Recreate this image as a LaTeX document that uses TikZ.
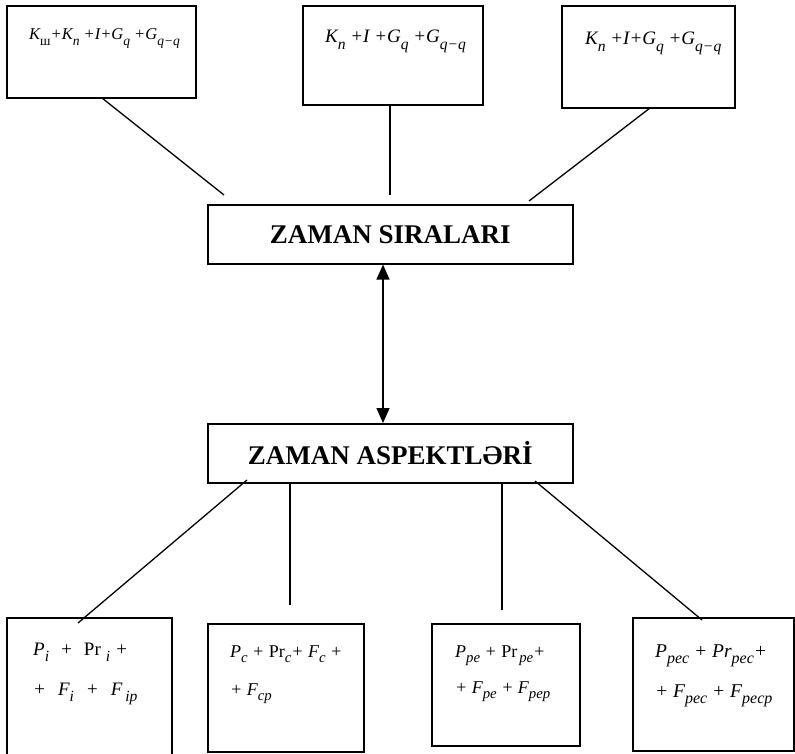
\documentclass[tikz,border=0pt]{standalone}
\usepackage{fontspec}
\setmainfont{Liberation Serif}
\usepackage{graphicx}
\usetikzlibrary{arrows.meta}
\newcommand\lo[1]{\raisebox{-0.32em}{\scalebox{0.82}{\itshape #1}}}
\newcommand\fs[1]{\fontsize{#1}{#1}\selectfont}
\begin{document}
\begin{tikzpicture}[x=1pt,y=-1pt,
  box/.style={draw,line width=1.6pt,anchor=north west,inner sep=0pt},
  conn/.style={line width=1.3pt},
  txt/.style={anchor=base west,inner sep=0pt},
  title/.style={font=\fs{27}\bfseries}]
\useasboundingbox (0,0) rectangle (795,754);
% top boxes
\node[box,minimum width=189pt,minimum height=92pt] (t1) at (6,5) {};
\node[box,minimum width=180pt,minimum height=99pt] (t2) at (302,5) {};
\node[box,minimum width=173pt,minimum height=102pt] (t3) at (561,5) {};
\node[txt,font=\fs{16.5}\itshape] (t1x) at (29,40) {K\lo{\upshape ш}+K\lo{n} +I+G\lo{q} +G\lo{q−q}};
\node[txt,font=\fs{19}\itshape] (t2x) at (325,43) {K\lo{n} +I +G\lo{q} +G\lo{q−q}};
\node[txt,font=\fs{19}\itshape] (t3x) at (585,45) {K\lo{n} +I+G\lo{q} +G\lo{q−q}};
% middle boxes
\node[box,minimum width=365pt,minimum height=59pt] (m1) at (207,204) {};
\node[title] (m1x) at (m1.center) {ZAMAN SIRALARI};
\node[box,minimum width=365pt,minimum height=59pt] (m2) at (207,423) {};
\node[title] (m2x) at (m2.center) {ZAMAN ASPEKTLƏRİ};
% bottom boxes
\node[box,minimum width=165pt,minimum height=150pt] (bA) at (6,617) {};
\node[box,minimum width=156pt,minimum height=128pt] (bB) at (207,623) {};
\node[box,minimum width=148pt,minimum height=122pt] (bC) at (431,623) {};
\node[box,minimum width=161pt,minimum height=133pt] (bD) at (632,617) {};
\node[txt,font=\fs{19}\itshape] (bA1) at (33,655) {P\lo{i}\hspace{11pt}+\hspace{11pt}{\upshape Pr}\hspace{5pt}\lo{i}\hspace{5pt}+};
\node[txt,font=\fs{19}\itshape] (bA2) at (33,695) {+\hspace{12pt}F\lo{i}\hspace{12pt}+\hspace{12pt}F\hspace{3pt}\lo{ip}};
\node[txt,font=\fs{18}\itshape] (bB1) at (230,657) {P\lo{c} + {\upshape Pr}\lo{c}+ F\lo{c} +};
\node[txt,font=\fs{18}\itshape] (bB2) at (230,695) {+ F\lo{cp}};
\node[txt,font=\fs{18}\itshape] (bC1) at (455,657) {P\lo{pe} + {\upshape Pr}\hspace{2pt}\lo{pe}+};
\node[txt,font=\fs{18}\itshape] (bC2) at (455,693) {+ F\lo{pe} + F\lo{pep}};
\node[txt,font=\fs{19.5}\itshape] (bD1) at (655,657) {P\lo{pec} + Pr\lo{pec}+};
\node[txt,font=\fs{19.5}\itshape] (bD2) at (655,697) {+ F\lo{pec} + F\lo{pecp}};
% connector end points
\coordinate (c1a) at (102,98);  \coordinate (c1b) at (224,195);
\coordinate (c2a) at (390,104); \coordinate (c2b) at (390,195);
\coordinate (c3a) at (650,108); \coordinate (c3b) at (529,201);
\coordinate (d1a) at (247,480); \coordinate (d1b) at (78,623);
\coordinate (d2a) at (290,482); \coordinate (d2b) at (290,605);
\coordinate (d3a) at (502,482); \coordinate (d3b) at (502,610);
\coordinate (d4a) at (535,481); \coordinate (d4b) at (702,620);
\coordinate (ax) at (383,0);
\draw[conn] (c1a) -- (c1b);
\draw[conn] (c2a) -- (c2b);
\draw[conn] (c3a) -- (c3b);
\draw[conn] (d1a) -- (d1b);
\draw[conn] (d2a) -- (d2b);
\draw[conn] (d3a) -- (d3b);
\draw[conn] (d4a) -- (d4b);
\draw[conn,{Triangle[width=13pt,length=15pt]}-{Triangle[width=13pt,length=15pt]}] (m1.south -| ax) -- (m2.north -| ax);
\end{tikzpicture}
\end{document}
